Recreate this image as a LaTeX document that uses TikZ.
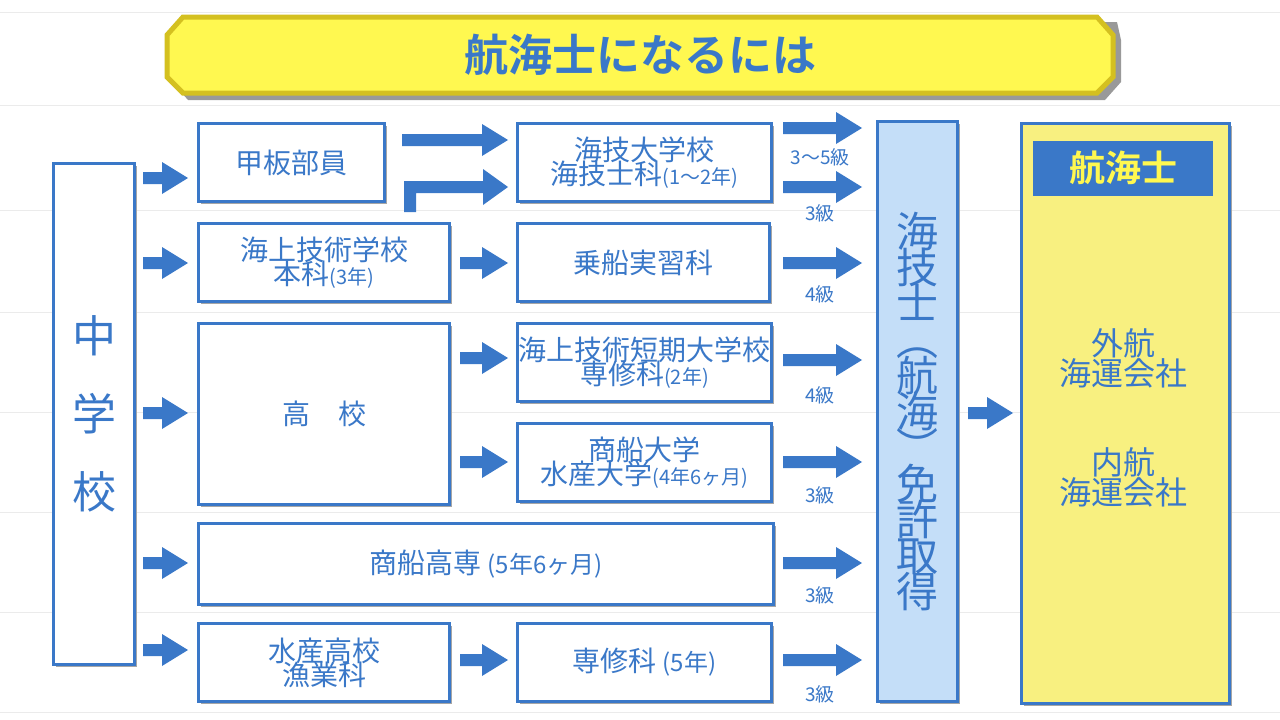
\documentclass[tikz,border=0pt]{standalone}
\usepackage{fontspec}
\setmainfont{Noto Sans CJK JP}
\newfontfamily\cjkb{Noto Sans CJK JP}[BoldFont={* Bold}]
\usetikzlibrary{calc}
\definecolor{bl}{HTML}{3A78C8}
\definecolor{ylw}{HTML}{FFF850}
\definecolor{ylb}{HTML}{D4C020}
\definecolor{lic}{HTML}{C4DEF8}
\definecolor{big}{HTML}{F8F080}
\newcommand\fs[1]{\fontsize{#1}{#1}\selectfont}
\newcommand\blk[3]{\fill[bl] (#1,#3-6) -- (#2-26,#3-6) -- (#2-26,#3-16) -- (#2,#3) -- (#2-26,#3+16) -- (#2-26,#3+6) -- (#1,#3+6) -- cycle;}
\tikzset{
 bx/.style={draw=bl, line width=3pt, fill=white, text=bl, align=center, inner sep=0pt},
 sh/.style={fill=black!35},
 lbl/.style={text=bl, font=\fs{19}}
}
\newcommand\mybox[5]{% name, x1,y1,x2,y2
 \fill[sh] (#2+4,#3+4) rectangle (#4+4,#5+4);
 \node[bx, minimum width=#4-#2, minimum height=#5-#3, anchor=north west] (#1) at (#2,#3) {};}
\begin{document}
\begin{tikzpicture}[x=1pt,y=-1pt]
\fill[white] (0,0) rectangle (1280,720);
\useasboundingbox (0,0) rectangle (1280,720);
\foreach \y in {12,105,210,312,412,512,612,712} \draw[black!8, line width=1pt] (0,\y) -- (1280,\y);
% title
\fill[black!40] (188,22) -- (1117,22) -- (1121,40) -- (1121,82) -- (1105,100) -- (188,100) -- (172,82) -- (172,40) -- cycle;
\draw[fill=ylw, draw=ylb, line width=5pt] (183,17) -- (1097,17) -- (1113,35) -- (1113,77) -- (1097,93) -- (183,93) -- (167,77) -- (167,35) -- cycle;
\node[text=bl, font=\cjkb\bfseries\fs{44}, draw=none] (title) at (640,55) {航海士になるには};
% boxes
\mybox{chu}{52}{162}{133}{663}
\node[text=bl, font=\fs{44}, align=center] at (chu.center) {中\\[34pt]学\\[34pt]校};
\mybox{kan}{197}{122}{383}{200} \node[text=bl,font=\fs{28}] at (kan.center) {甲板部員};
\mybox{kdai}{516}{122}{770}{200} \node[text=bl,font=\fs{28},align=center] at (kdai.center) {海技大学校\\[-4pt]海技士科{\fs{20}(1～2年)}};
\mybox{jgk}{197}{222}{448}{300} \node[text=bl,font=\fs{28},align=center] at (jgk.center) {海上技術学校\\[-4pt]本科{\fs{20}(3年)}};
\mybox{jos}{516}{222}{768}{300} \node[text=bl,font=\fs{28}] at (jos.center) {乗船実習科};
\mybox{kou}{197}{322}{448}{503} \node[text=bl,font=\fs{28}] at (kou.center) {高　校};
\mybox{tan}{516}{322}{770}{400} \node[text=bl,font=\fs{28},align=center] at (tan.center) {海上技術短期大学校\\[-4pt]専修科{\fs{20}(2年)}};
\mybox{sho}{516}{422}{770}{500} \node[text=bl,font=\fs{28},align=center] at (sho.center) {商船大学\\[-4pt]水産大学{\fs{20}(4年6ヶ月)}};
\mybox{sen}{197}{522}{772}{603} \node[text=bl,font=\fs{28}] at (sen.center) {商船高専 {\fs{24}(5年6ヶ月)}};
\mybox{sui}{197}{622}{448}{700} \node[text=bl,font=\fs{28},align=center] at (sui.center) {水産高校\\[-4pt]漁業科};
\mybox{ssh}{516}{622}{770}{700} \node[text=bl,font=\fs{28}] at (ssh.center) {専修科 {\fs{24}(5年)}};
% license
\fill[sh] (880,124) rectangle (960,704);
\node[bx, fill=lic, minimum width=80, minimum height=580, anchor=north west] (lic) at (876,120) {};
\node[text=bl, font=\fs{42}, align=center] at (lic.center) {海\\[-6pt]技\\[-6pt]士\\[-6pt]︵\\[-6pt]航\\[-6pt]海\\[-6pt]︶\\[-6pt]免\\[-6pt]許\\[-6pt]取\\[-6pt]得};
% big box
\fill[sh] (1024,126) rectangle (1232,706);
\node[bx, fill=big, minimum width=208, minimum height=580, anchor=north west] (big) at (1020,122) {};
\node[fill=bl, text=ylw, font=\cjkb\bfseries\fs{36}, minimum width=180, minimum height=55, inner sep=0pt] (kaiji) at (1123,168) {航海士};
\node[text=bl, font=\fs{32}, align=center] (gai) at (1123,358) {外航\\[-2pt]海運会社};
\node[text=bl, font=\fs{32}, align=center] (nai) at (1123,477) {内航\\[-2pt]海運会社};
% arrows
\foreach \y in {178,263,413,563,650} {\blk{143}{188}{\y}}
\blk{402}{508}{140}
\fill[bl] (404,212) -- (416,212) -- (416,193) -- (483,193) -- (483,205) -- (508,187) -- (483,169) -- (483,181) -- (404,181) -- cycle;
\blk{460}{508}{263}
\blk{460}{508}{358}
\blk{460}{508}{462}
\blk{460}{508}{660}
\foreach \y in {128,187,263,360,462,563,660} {\blk{783}{862}{\y}}
\node[lbl] at (820,157) {3～5級};
\node[lbl] at (820,213) {3級};
\node[lbl] at (820,294) {4級};
\node[lbl] at (820,395) {4級};
\node[lbl] at (820,495) {3級};
\node[lbl] at (820,595) {3級};
\node[lbl] at (820,694) {3級};
\blk{968}{1013}{413}
\end{tikzpicture}
\end{document}
